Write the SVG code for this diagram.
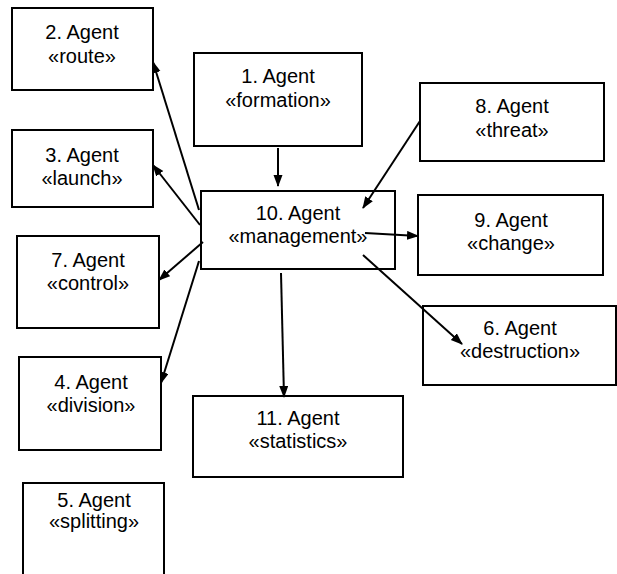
<svg xmlns="http://www.w3.org/2000/svg" width="617" height="574" viewBox="0 0 617 574">
<style>
rect{fill:#fff;stroke:#000;stroke-width:2}
text{font-family:"Liberation Sans",Arial,sans-serif;font-size:20px;fill:#000;text-anchor:middle}
.c line{stroke:#000;stroke-width:2;marker-end:url(#ah)}
</style>
<defs>
<marker id="ah" markerUnits="userSpaceOnUse" markerWidth="12" markerHeight="10" refX="11" refY="4.5" orient="auto">
<path d="M0,0 L12,4.5 L0,9 z" fill="#000"/>
</marker>
</defs>
<rect x="0" y="0" width="617" height="574" style="stroke:none"/>
<g id="n2"><rect x="12" y="8" width="141" height="82"/><text x="82" y="39">2. Agent</text><text x="82" y="63">«route»</text></g>
<g id="n1"><rect x="194" y="53" width="168" height="93"/><text x="278" y="83">1. Agent</text><text x="278" y="107">«formation»</text></g>
<g id="n3"><rect x="12" y="130" width="141" height="77"/><text x="82" y="162">3. Agent</text><text x="82" y="185">«launch»</text></g>
<g id="n8"><rect x="420" y="83" width="184" height="78"/><text x="512" y="113">8. Agent</text><text x="512" y="137">«threat»</text></g>
<g id="n10"><rect x="201" y="191" width="194" height="78"/><text x="298" y="220">10. Agent</text><text x="298" y="243">«management»</text></g>
<g id="n9"><rect x="418" y="195" width="185" height="80"/><text x="511" y="227">9. Agent</text><text x="511" y="250">«change»</text></g>
<g id="n7"><rect x="17" y="236" width="142" height="92"/><text x="88" y="267">7. Agent</text><text x="88" y="290">«control»</text></g>
<g id="n6"><rect x="423" y="306" width="193" height="79"/><text x="520" y="335">6. Agent</text><text x="520" y="358">«destruction»</text></g>
<g id="n4"><rect x="19" y="357" width="142" height="93"/><text x="91" y="389">4. Agent</text><text x="91" y="412">«division»</text></g>
<g id="n11"><rect x="193" y="396" width="210" height="81"/><text x="298" y="425">11. Agent</text><text x="298" y="448">«statistics»</text></g>
<g id="n5"><rect x="23" y="483" width="141" height="100"/><text x="94" y="507">5. Agent</text><text x="94" y="528">«splitting»</text></g>
<g id="connectors" class="c">
<line x1="278" y1="148" x2="278" y2="186"/>
<line x1="199" y1="210" x2="153" y2="62"/>
<line x1="200" y1="225" x2="153" y2="165"/>
<line x1="203" y1="242" x2="159" y2="280"/>
<line x1="199" y1="261" x2="161" y2="383"/>
<line x1="420" y1="121" x2="363" y2="208"/>
<line x1="365" y1="233" x2="418" y2="236"/>
<line x1="363" y1="255" x2="462" y2="344"/>
<line x1="281" y1="273" x2="284" y2="397"/>
</g>
</svg>
